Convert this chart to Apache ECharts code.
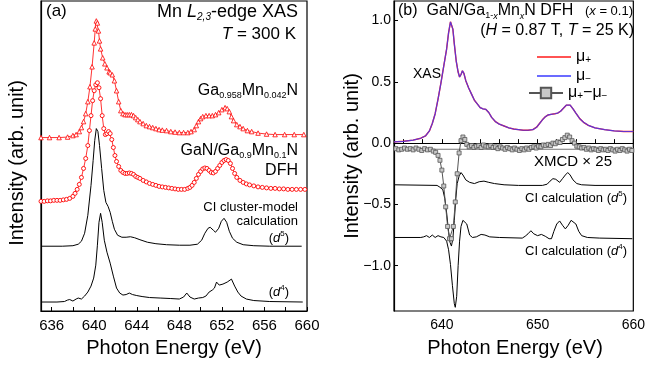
<!DOCTYPE html>
<html>
<head>
<meta charset="utf-8">
<script src="https://cdn.jsdelivr.net/npm/echarts@6/dist/echarts.min.js"></script>
<style>
  html, body { margin: 0; padding: 0; background: #fff; }
  #chart { width: 648px; height: 367px; }
</style>
</head>
<body>
<div id="chart"></div>
<script>
var F = '"Liberation Sans", Arial, Helvetica, sans-serif';

// ---- panel (a): energy, intensity (arb. offset units) ----
var ga042 = [
  [635.0,1.74],[635.8,1.74],[636.7,1.74],[637.5,1.745],[638.0,1.76],[638.3,1.77],[638.6,1.80],[638.8,1.84],
  [639.0,1.90],[639.2,1.98],[639.4,2.10],[639.6,2.25],[639.8,2.45],[640.0,2.69],[640.1,2.83],[640.2,2.91],
  [640.3,2.89],[640.4,2.81],[640.5,2.71],[640.6,2.63],[640.8,2.54],[641.0,2.48],[641.2,2.44],[641.4,2.40],
  [641.5,2.39],[641.7,2.37],[641.9,2.31],[642.1,2.21],[642.3,2.10],[642.5,2.01],[642.7,1.98],[642.9,1.97],
  [643.1,1.97],[643.3,1.97],[643.5,1.97],[643.7,1.96],[643.9,1.94],[644.1,1.92],[644.3,1.90],[644.6,1.88],
  [644.9,1.86],[645.2,1.85],[645.5,1.84],[645.8,1.83],[646.1,1.82],[646.4,1.815],[646.8,1.81],[647.2,1.80],
  [647.6,1.795],[648.0,1.79],[648.4,1.79],[648.8,1.79],[649.1,1.80],[649.4,1.82],[649.6,1.86],[649.8,1.90],
  [650.0,1.93],[650.2,1.95],[650.5,1.96],[650.8,1.96],[651.1,1.96],[651.4,1.97],[651.7,1.99],[652.0,2.02],
  [652.3,2.04],[652.5,2.03],[652.7,2.00],[652.9,1.95],[653.1,1.91],[653.4,1.87],[653.7,1.85],[654.0,1.83],
  [654.4,1.81],[654.8,1.80],[655.4,1.785],[656.2,1.775],[657.0,1.77],[657.9,1.77],[658.8,1.77],[659.7,1.77]
];
var dfh = [
  [635.0,1.10],[635.3,1.10],[635.6,1.105],[635.9,1.105],[636.2,1.11],[636.5,1.11],[636.8,1.11],[637.1,1.115],
  [637.4,1.12],[637.7,1.13],[638.0,1.15],[638.2,1.18],[638.4,1.22],[638.6,1.27],[638.8,1.34],[639.0,1.43],
  [639.2,1.53],[639.4,1.66],[639.55,1.81],[639.7,1.96],[639.85,2.11],[640.0,2.21],[640.15,2.27],[640.3,2.29],
  [640.45,2.24],[640.6,2.13],[640.75,1.96],[640.9,1.83],[641.05,1.77],[641.2,1.78],[641.35,1.80],[641.5,1.78],
  [641.65,1.72],[641.8,1.64],[641.95,1.56],[642.1,1.50],[642.3,1.45],[642.5,1.41],[642.7,1.39],[642.9,1.38],
  [643.1,1.38],[643.3,1.385],[643.5,1.38],[643.7,1.37],[643.9,1.35],[644.1,1.34],[644.3,1.33],[644.6,1.31],
  [644.9,1.295],[645.2,1.28],[645.5,1.27],[645.8,1.26],[646.1,1.25],[646.4,1.245],[646.7,1.24],[647.0,1.235],
  [647.3,1.23],[647.6,1.225],[647.9,1.22],[648.2,1.22],[648.5,1.22],[648.8,1.23],[649.0,1.24],[649.2,1.26],
  [649.4,1.29],[649.6,1.33],[649.8,1.37],[650.0,1.40],[650.2,1.425],[650.4,1.435],[650.6,1.43],[650.8,1.41],
  [651.0,1.39],[651.2,1.385],[651.4,1.40],[651.6,1.43],[651.8,1.46],[652.0,1.49],[652.2,1.51],[652.4,1.52],
  [652.6,1.51],[652.8,1.48],[653.0,1.43],[653.2,1.38],[653.4,1.34],[653.7,1.31],[654.0,1.29],[654.3,1.275],
  [654.6,1.265],[655.0,1.255],[655.4,1.245],[655.8,1.24],[656.2,1.235],[656.6,1.23],[657.0,1.23],[657.4,1.225],
  [657.8,1.225],[658.2,1.22],[658.6,1.22],[659.0,1.22],[659.4,1.22],[659.8,1.22]
];
var calcD5a = [
  [635,0.65],[637,0.65],[638,0.655],[638.5,0.67],[638.8,0.70],[639.1,0.78],[639.4,0.96],[639.7,1.26],
  [639.9,1.51],[640.05,1.71],[640.2,1.83],[640.35,1.80],[640.5,1.66],[640.7,1.43],[640.9,1.21],[641.1,1.09],
  [641.3,1.05],[641.5,0.99],[641.7,0.90],[641.9,0.82],[642.2,0.76],[642.6,0.74],[643.0,0.74],[643.4,0.745],
  [643.8,0.735],[644.3,0.715],[645.0,0.69],[645.8,0.675],[646.8,0.665],[648.0,0.66],[649.0,0.66],[649.7,0.67],
  [650.1,0.71],[650.4,0.78],[650.7,0.83],[650.9,0.84],[651.2,0.81],[651.4,0.79],[651.7,0.83],[651.95,0.90],
  [652.2,0.93],[652.45,0.89],[652.7,0.80],[653.0,0.73],[653.4,0.69],[654.0,0.665],[655.0,0.655],[656.5,0.65],
  [659.5,0.65]
];
var calcD4a = [
  [635,0.09],[636.5,0.09],[637.2,0.095],[637.5,0.11],[637.7,0.115],[638.0,0.10],[638.3,0.12],[638.5,0.13],
  [638.8,0.12],[639.1,0.15],[639.4,0.19],[639.7,0.25],[639.95,0.33],[640.15,0.46],[640.3,0.66],[640.45,0.89],
  [640.6,0.98],[640.75,0.89],[640.95,0.71],[641.2,0.59],[641.5,0.48],[641.8,0.35],[642.1,0.23],[642.4,0.18],
  [642.7,0.16],[643.0,0.165],[643.3,0.18],[643.6,0.165],[644.0,0.155],[644.5,0.145],[645.2,0.135],[646.2,0.13],
  [647.2,0.125],[648.0,0.12],[648.4,0.14],[648.7,0.18],[649.0,0.14],[649.4,0.12],[649.8,0.13],[650.2,0.135],
  [650.5,0.15],[650.8,0.19],[651.1,0.21],[651.3,0.23],[651.5,0.29],[651.75,0.26],[652.1,0.27],[652.5,0.29],
  [652.9,0.32],[653.2,0.25],[653.5,0.19],[653.8,0.15],[654.3,0.12],[655.0,0.105],[656.5,0.095],[659.6,0.09]
];

// ---- panel (b) ----
var xas = [
  [635.0,0.01],[636.0,0.015],[637.0,0.025],[637.8,0.04],[638.3,0.06],[638.7,0.10],[639.0,0.16],[639.3,0.24],
  [639.6,0.36],[639.9,0.49],[640.2,0.63],[640.5,0.77],[640.7,0.90],[640.9,0.99],[641.0,1.00],[641.15,0.93],
  [641.3,0.81],[641.5,0.67],[641.7,0.58],[641.85,0.54],[642.0,0.56],[642.15,0.59],[642.3,0.57],[642.5,0.51],
  [642.8,0.45],[643.1,0.40],[643.4,0.35],[643.7,0.32],[644.0,0.29],[644.3,0.28],[644.6,0.275],[644.9,0.25],
  [645.2,0.21],[645.6,0.175],[646.0,0.155],[646.5,0.14],[647.0,0.125],[647.5,0.115],[648.0,0.11],[648.5,0.105],
  [649.0,0.105],[649.5,0.11],[649.9,0.13],[650.2,0.16],[650.5,0.19],[650.8,0.215],[651.1,0.23],[651.4,0.235],
  [651.8,0.24],[652.1,0.245],[652.4,0.26],[652.7,0.285],[653.0,0.31],[653.2,0.32],[653.4,0.31],[653.7,0.28],
  [654.0,0.245],[654.4,0.20],[654.8,0.17],[655.3,0.145],[656.0,0.125],[657.0,0.11],[658.0,0.10],[659.0,0.095],
  [660.0,0.095]
];
var xmcdZero = -0.05;
var xmcd = [
  [635.2,-0.045],[635.5,-0.055],[635.8,-0.05],[636.1,-0.04],[636.4,-0.05],[636.7,-0.045],[637.0,-0.055],[637.3,-0.04],
  [637.6,-0.05],[637.9,-0.06],[638.2,-0.045],[638.5,-0.055],[638.8,-0.05],[639.1,-0.065],[639.35,-0.075],[639.6,-0.10],
  [639.8,-0.14],[640.0,-0.22],[640.2,-0.35],[640.4,-0.52],[640.6,-0.68],[640.8,-0.78],[641.0,-0.78],[641.2,-0.68],
  [641.4,-0.48],[641.6,-0.25],[641.8,-0.08],[642.0,0.02],[642.2,0.05],[642.4,0.03],[642.6,-0.01],[642.85,-0.03],
  [643.1,-0.02],[643.35,-0.035],[643.6,-0.025],[643.85,-0.02],[644.1,-0.035],[644.35,-0.015],[644.6,-0.025],[644.85,-0.03],
  [645.1,-0.02],[645.35,-0.035],[645.6,-0.03],[645.85,-0.045],[646.1,-0.03],[646.35,-0.04],[646.6,-0.05],[646.85,-0.035],
  [647.1,-0.045],[647.35,-0.055],[647.6,-0.04],[647.85,-0.05],[648.1,-0.06],[648.35,-0.045],[648.6,-0.055],[648.85,-0.04],
  [649.1,-0.05],[649.35,-0.035],[649.6,-0.03],[649.85,-0.04],[650.1,-0.025],[650.35,-0.03],[650.6,-0.015],[650.85,-0.02],
  [651.1,-0.01],[651.35,-0.02],[651.6,0.0],[651.85,-0.005],[652.1,0.01],[652.35,0.005],[652.6,0.03],[652.85,0.045],
  [653.1,0.065],[653.35,0.05],[653.6,0.02],[653.85,0.0],[654.1,-0.025],[654.35,-0.03],[654.6,-0.04],[654.85,-0.035],
  [655.1,-0.05],[655.35,-0.04],[655.6,-0.055],[655.85,-0.045],[656.1,-0.05],[656.35,-0.06],[656.6,-0.045],[656.85,-0.055],
  [657.1,-0.05],[657.35,-0.06],[657.6,-0.045],[657.85,-0.055],[658.1,-0.065],[658.35,-0.05],[658.6,-0.06],[658.85,-0.045],
  [659.1,-0.055],[659.35,-0.065],[659.6,-0.05],[659.85,-0.06]
];
var calcD5b = [
  [635,-0.34],[639.5,-0.345],[639.8,-0.36],[640.1,-0.38],[640.3,-0.45],[640.5,-0.57],[640.7,-0.72],[640.85,-0.81],
  [641.0,-0.84],[641.15,-0.78],[641.3,-0.63],[641.45,-0.46],[641.6,-0.33],[641.8,-0.27],[642.0,-0.24],[642.2,-0.26],
  [642.5,-0.30],[642.9,-0.32],[643.4,-0.33],[643.9,-0.315],[644.4,-0.31],[644.9,-0.32],[645.5,-0.33],[646.5,-0.34],
  [648.0,-0.345],[650.5,-0.345],[651.0,-0.335],[651.3,-0.31],[651.6,-0.29],[651.9,-0.295],[652.3,-0.32],[652.6,-0.29],
  [652.9,-0.26],[653.15,-0.24],[653.4,-0.26],[653.7,-0.30],[654.1,-0.33],[654.6,-0.34],[656.0,-0.345],[659.9,-0.345]
];
var calcD4b = [
  [635,-0.77],[637.8,-0.77],[638.1,-0.765],[638.4,-0.755],[638.7,-0.77],[639.0,-0.75],[639.3,-0.77],[639.6,-0.755],
  [639.9,-0.765],[640.2,-0.77],[640.5,-0.80],[640.7,-0.87],[640.9,-0.99],[641.1,-1.16],[641.3,-1.31],[641.4,-1.34],
  [641.55,-1.25],[641.7,-1.00],[641.85,-0.80],[642.0,-0.68],[642.2,-0.63],[642.4,-0.62],[642.6,-0.66],[642.9,-0.75],
  [643.2,-0.77],[643.6,-0.765],[644.1,-0.745],[644.5,-0.75],[645.0,-0.765],[646.0,-0.77],[648.4,-0.775],[648.7,-0.76],
  [649.0,-0.74],[649.3,-0.715],[649.6,-0.74],[650.0,-0.755],[650.4,-0.745],[650.8,-0.76],[651.2,-0.78],[651.45,-0.78],
  [651.7,-0.72],[652.0,-0.66],[652.3,-0.635],[652.6,-0.67],[652.9,-0.70],[653.2,-0.67],[653.5,-0.63],[653.7,-0.62],
  [654.0,-0.66],[654.3,-0.72],[654.6,-0.755],[655.2,-0.77],[656.5,-0.775],[659.9,-0.78]
];

var ticksA = [636,638,640,642,644,646,648,650,652,654,656,658,660];
var labelsA = [636,640,644,648,652,656,660];
var ticksB = [636,638,640,642,644,646,648,650,652,654,656,658,660];
var labelsB = [640,650,660];
var yLabelsB = [-1.0,-0.5,0.0,0.5,1.0];

function richSet(size) {
  var s = Math.round(size * 0.55);
  return {
    n: { fontSize: size, fontFamily: F, color: '#000', lineHeight: size + 3 },
    i: { fontSize: size, fontFamily: F, fontStyle: 'italic', color: '#000', lineHeight: size + 3 },
    b: { fontSize: s, fontFamily: F, color: '#000', verticalAlign: 'bottom', lineHeight: s },
    bi: { fontSize: s, fontFamily: F, fontStyle: 'italic', color: '#000', verticalAlign: 'bottom', lineHeight: s },
    p: { fontSize: s + 1, fontFamily: F, color: '#000', verticalAlign: 'top', lineHeight: s + 1 }
  };
}
function label(x, y, text, size, align) {
  return {
    type: 'text', x: x, y: y, silent: true,
    style: { text: text, rich: richSet(size), align: align || 'right', verticalAlign: 'middle', fill: '#000' }
  };
}
function vTitle(x, y, text) {
  return {
    type: 'text', x: x, y: y, rotation: Math.PI / 2, silent: true,
    style: { text: text, font: '20px ' + F, align: 'center', verticalAlign: 'middle', fill: '#000' }
  };
}
function hTitle(x, y, text) {
  return {
    type: 'text', x: x, y: y, silent: true,
    style: { text: text, font: '20px ' + F, align: 'center', verticalAlign: 'middle', fill: '#000' }
  };
}
function xAxisFor(grid, labels, ticks, fs) {
  return {
    type: 'value', gridIndex: grid, min: 635, max: 660,
    axisLine: { show: true, lineStyle: { color: '#000', width: 1.2 } },
    axisTick: { show: true, inside: true, length: 4, customValues: ticks, lineStyle: { color: '#000' } },
    axisLabel: { customValues: labels, fontSize: fs, fontFamily: F, color: '#000', margin: 7 },
    splitLine: { show: false }
  };
}
function curve(name, xi, data, color, width) {
  return {
    name: name, type: 'line', xAxisIndex: xi, yAxisIndex: xi, data: data,
    symbol: 'none', silent: true, z: 3,
    lineStyle: { color: color, width: width || 1 }, itemStyle: { color: color }
  };
}
var legendRich = {
  m: { fontSize: 16, fontFamily: F, color: '#000', lineHeight: 16 },
  s: { fontSize: 10, fontFamily: F, color: '#000', verticalAlign: 'bottom', lineHeight: 8 }
};

var chart = echarts.init(document.getElementById('chart'), null, { renderer: 'canvas' });

var option = {
  animation: false,
  backgroundColor: '#fff',
  grid: [
    { left: 41, top: 1, width: 266, height: 310, show: true, borderColor: '#000', borderWidth: 1.2 },
    { left: 394, top: 1, width: 242, height: 310, show: true, borderColor: '#000', borderWidth: 1.2 }
  ],
  xAxis: [xAxisFor(0, labelsA, ticksA, 15), xAxisFor(1, labelsB, ticksB, 14)],
  yAxis: [
    { type: 'value', gridIndex: 0, min: 0, max: 3.11,
      axisLine: { show: true, lineStyle: { color: '#000', width: 1.2 } },
      axisTick: { show: false }, axisLabel: { show: false }, splitLine: { show: false } },
    { type: 'value', gridIndex: 1, min: -1.37, max: 1.16,
      axisLine: { show: true, lineStyle: { color: '#000', width: 1.2 } },
      axisTick: { show: true, inside: true, length: 4, customValues: yLabelsB, lineStyle: { color: '#000' } },
      axisLabel: { customValues: yLabelsB, fontSize: 14, fontFamily: F, color: '#000', margin: 3,
        formatter: function (v) { return v.toFixed(1).replace('-', '\u2212'); } },
      splitLine: { show: false } }
  ],
  legend: [
    { data: [{ name: 'mu_plus', icon: 'rect' }, { name: 'mu_minus', icon: 'rect' }],
      orient: 'vertical', left: 532, top: 44, itemWidth: 34, itemHeight: 1.5,
      itemGap: 3, selectedMode: false,
      formatter: function (n) { return n === 'mu_plus' ? '{m|\u03bc}{s|+}' : '{m|\u03bc}{s|\u2212}'; },
      textStyle: { rich: legendRich } },
    { data: ['diff'], orient: 'vertical', left: 523, top: 80, itemWidth: 34, itemHeight: 13, selectedMode: false,
      formatter: function () { return '{m|\u03bc}{s|+}{m|\u2212\u03bc}{s|\u2212}'; },
      textStyle: { rich: legendRich } }
  ],
  series: [
    curve('d5a', 0, calcD5a, '#000', 1),
    curve('d4a', 0, calcD4a, '#000', 1),
    { name: 'ga042', type: 'line', xAxisIndex: 0, yAxisIndex: 0, data: ga042, silent: true,
      symbol: 'triangle', symbolSize: 4.5, showAllSymbol: true,
      lineStyle: { color: '#f00', width: 0.8 }, itemStyle: { color: '#fff', borderColor: '#f00', borderWidth: 0.8 } },
    { name: 'dfh', type: 'line', xAxisIndex: 0, yAxisIndex: 0, data: dfh, silent: true,
      symbol: 'circle', symbolSize: 4, showAllSymbol: true,
      lineStyle: { color: '#f00', width: 0.8 }, itemStyle: { color: '#fff', borderColor: '#f00', borderWidth: 0.9 } },
    curve('mu_plus', 1, xas, '#ff1a1a', 1.4),
    { name: 'mu_minus', type: 'line', xAxisIndex: 1, yAxisIndex: 1, data: xas, symbol: 'none', silent: true,
      lineStyle: { color: '#3a3aff', width: 1.2, opacity: 0.8 }, itemStyle: { color: '#3a3aff' } },
    curve('zero', 1, [[635, xmcdZero], [660, xmcdZero]], '#777', 1),
    curve('d5b', 1, calcD5b, '#000', 1),
    curve('d4b', 1, calcD4b, '#000', 1),
    { name: 'diff', type: 'line', xAxisIndex: 1, yAxisIndex: 1, data: xmcd, silent: true, z: 4,
      symbol: 'rect', symbolSize: 4, showAllSymbol: true,
      lineStyle: { color: '#555', width: 1 },
      itemStyle: { color: '#c8c8c8', borderColor: '#555', borderWidth: 0.8 } }
  ],
  graphic: [
    label(46, 11, '{n|(a)}', 17, 'left'),
    label(298, 12, '{n|Mn }{i|L}{bi|2,3}{n|-edge XAS}', 18, 'right'),
    label(296, 34, '{i|T}{n| = 300 K}', 17, 'right'),
    label(298, 91, '{n|Ga}{b|0.958}{n|Mn}{b|0.042}{n|N}', 16, 'right'),
    label(298, 151, '{n|GaN/Ga}{b|0.9}{n|Mn}{b|0.1}{n|N}', 16, 'right'),
    label(298, 171, '{n|DFH}', 16, 'right'),
    label(298, 207, '{n|CI cluster-model}', 13, 'right'),
    label(298, 221, '{n|calculation}', 13, 'right'),
    label(289, 238, '{n|(}{i|d}{p|5}{n|)}', 13, 'right'),
    label(289, 292, '{n|(}{i|d}{p|4}{n|)}', 13, 'right'),
    label(398, 11, '{n|(b)  GaN/Ga}{b|1-}{bi|x}{n|Mn}{bi|x}{n|N DFH}', 16, 'left'),
    label(633, 11, '{s|(}{si|x}{s| = 0.1)}', 13, 'right'),
    label(634, 31, '{n|(}{i|H}{n| = 0.87 T, }{i|T}{n| = 25 K)}', 16, 'right'),
    label(413, 74, '{n|XAS}', 14, 'left'),
    label(573, 162, '{n|XMCD \u00d7 25}', 15, 'center'),
    label(627, 198, '{n|CI calculation (}{i|d}{p|5}{n|)}', 13, 'right'),
    label(627, 251, '{n|CI calculation (}{i|d}{p|4}{n|)}', 13, 'right'),
    vTitle(17, 163, 'Intensity (arb. unit)'),
    vTitle(352, 156, 'Intensity (arb. unit)'),
    hTitle(174, 348, 'Photon Energy (eV)'),
    hTitle(515, 348, 'Photon Energy (eV)')
  ]
};

// extra rich styles for the (x = 0.1) label
option.graphic[11].style.rich.s = { fontSize: 13, fontFamily: F, color: '#000', lineHeight: 16 };
option.graphic[11].style.rich.si = { fontSize: 13, fontFamily: F, fontStyle: 'italic', color: '#000', lineHeight: 16 };

chart.setOption(option);
</script>
</body>
</html>
